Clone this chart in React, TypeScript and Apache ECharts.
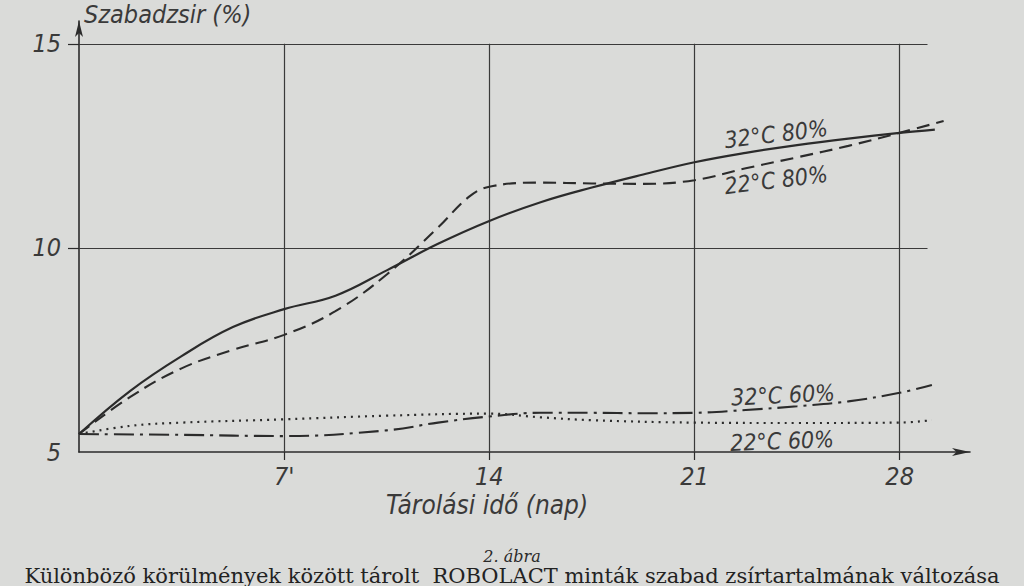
import React, { useEffect, useRef } from "react";
import * as echarts from "echarts";

// ---- data ----
const days32_80 = [0, 1.75, 3.5, 5.25, 7, 8.75, 10.5, 12.25, 14, 15.75, 17.5, 19.25, 21, 22.75, 24.5, 26.25, 28, 29.2];
const vals32_80 = [5.44, 6.5, 7.35, 8.06, 8.5, 8.83, 9.45, 10.1, 10.66, 11.12, 11.48, 11.8, 12.1, 12.33, 12.52, 12.68, 12.82, 12.9];

const days22_80 = [0, 1.75, 3.5, 5.25, 7, 8.75, 10.5, 12.25, 13.3, 14, 15.75, 17.5, 19.25, 21, 22.75, 24.5, 26.25, 28, 29.5];
const vals22_80 = [5.44, 6.35, 7.05, 7.5, 7.87, 8.45, 9.35, 10.5, 11.25, 11.5, 11.6, 11.58, 11.57, 11.66, 11.95, 12.22, 12.5, 12.82, 13.11];

const days32_60 = [0, 3.5, 7, 10.5, 12.25, 14, 15.75, 17.5, 19.25, 21, 22.75, 24.5, 26.25, 28, 29.1];
const vals32_60 = [5.44, 5.42, 5.39, 5.53, 5.72, 5.87, 5.96, 5.96, 5.95, 5.96, 6.03, 6.12, 6.24, 6.45, 6.64];

const days22_60 = [0, 1.75, 3.5, 7, 10.5, 14, 15.75, 17.5, 21, 24.5, 28, 29.1];
const vals22_60 = [5.44, 5.64, 5.72, 5.8, 5.89, 5.94, 5.85, 5.78, 5.72, 5.71, 5.72, 5.78];

const xTickValues = [7, 14, 21, 28];
const xTickLabels = ["7'", "14", "21", "28"];
const yTickValues = [5, 10, 15];
const yTickLabels = ["5", "10", "15"];
const hGridValues = [10, 15];

const seriesNames = ["32°C 80%", "22°C 80%", "32°C 60%", "22°C 60%"];

const X_MAX = 30.4;
const Y_MIN = 5;
const Y_MAX = 15.56;
const GRID_X_END = 28.95;

const INK = "#2b2b2b";
const TEXT = "#3a3a3a";
const HAND = "'Liberation Sans Narrow', 'DejaVu Sans Condensed', 'Liberation Sans', sans-serif";
const SERIF = "'DejaVu Serif', 'Liberation Serif', serif";

function zip(xs: number[], ys: number[]) {
  return xs.map((x, i) => [x, ys[i]]);
}

export default function App() {
  const ref = useRef<HTMLDivElement>(null);

  useEffect(() => {
    if (!ref.current) return;
    const chart = echarts.init(ref.current, null, { renderer: "svg" });

    const gridLines: any[] = [];
    hGridValues.forEach((v) => {
      gridLines.push([{ coord: [0, v] }, { coord: [GRID_X_END, v] }]);
    });
    xTickValues.forEach((d) => {
      gridLines.push([{ coord: [d, Y_MIN] }, { coord: [d, 15] }]);
    });

    const baseLine = (name: string, data: number[][], type: any, width: number) => ({
      name,
      type: "line",
      data,
      smooth: 0.4,
      symbol: "none",
      clip: false,
      lineStyle: { color: INK, width, type, cap: "butt" },
      silent: true,
      z: 3,
    });

    const labelText = (text: string, x: number, y: number, rot: number) => ({
      type: "text",
      x,
      y,
      rotation: rot,
      style: {
        text,
        x: 0,
        y: 0,
        align: "center",
        verticalAlign: "middle",
        fill: TEXT,
        font: `italic 23px ${HAND}`,
      },
    });

    chart.setOption({
      animation: false,
      backgroundColor: "#dadbd9",
      grid: { left: 79, top: 21, width: 891, height: 431, containLabel: false },
      xAxis: {
        type: "value",
        min: 0,
        max: X_MAX,
        axisLine: {
          show: true,
          symbol: ["none", "arrow"],
          symbolSize: [6, 18],
          lineStyle: { color: INK, width: 1.6 },
        },
        axisTick: {
          show: true,
          customValues: xTickValues,
          length: 8,
          lineStyle: { color: INK, width: 1.2 },
        },
        axisLabel: {
          show: true,
          customValues: xTickValues,
          margin: 12,
          formatter: (v: number) => xTickLabels[xTickValues.indexOf(v)] ?? "",
          color: TEXT,
          fontFamily: HAND,
          fontStyle: "italic",
          fontSize: 25,
        },
        splitLine: { show: false },
      },
      yAxis: {
        type: "value",
        min: Y_MIN,
        max: Y_MAX,
        interval: 5,
        axisLine: {
          show: true,
          symbol: ["none", "arrow"],
          symbolSize: [6, 16],
          lineStyle: { color: INK, width: 1.6 },
        },
        axisTick: {
          show: true,
          customValues: hGridValues,
          length: 11,
          lineStyle: { color: INK, width: 1.2 },
        },
        axisLabel: {
          show: true,
          customValues: yTickValues,
          margin: 18,
          formatter: (v: number) => yTickLabels[yTickValues.indexOf(v)] ?? "",
          color: TEXT,
          fontFamily: HAND,
          fontStyle: "italic",
          fontSize: 25,
        },
        splitLine: { show: false },
      },
      series: [
        {
          ...baseLine(seriesNames[0], zip(days32_80, vals32_80), "solid", 2.2),
          markLine: {
            silent: true,
            symbol: ["none", "none"],
            label: { show: false },
            lineStyle: { type: "solid", color: "#3a3a3a", width: 1.2 },
            emphasis: { disabled: true },
            data: gridLines,
            z: 1,
          },
        },
        baseLine(seriesNames[1], zip(days22_80, vals22_80), [13, 7], 2.1),
        baseLine(seriesNames[2], zip(days32_60, vals32_60), [20, 6, 3, 6], 2.1),
        baseLine(seriesNames[3], zip(days22_60, vals22_60), [2, 5], 2.2),
      ],
      graphic: [
        {
          type: "text",
          left: 84,
          top: 2,
          style: { text: "Szabadzsir (%)", fill: TEXT, font: `italic 25px ${HAND}` },
        },
        {
          type: "text",
          x: 487,
          y: 505,
          style: {
            text: "Tárolási idő (nap)",
            align: "center",
            verticalAlign: "middle",
            fill: TEXT,
            font: `italic 26px ${HAND}`,
          },
        },
        labelText(seriesNames[0], 776, 134, 0.12),
        labelText(seriesNames[1], 776, 180, 0.12),
        labelText(seriesNames[2], 783, 395, 0.05),
        labelText(seriesNames[3], 782, 441, 0.04),
        {
          type: "text",
          x: 512,
          y: 564,
          style: {
            text: "2. ábra",
            align: "center",
            verticalAlign: "bottom",
            fill: "#2a2a2a",
            font: `italic 16px ${SERIF}`,
          },
        },
        {
          type: "text",
          x: 512,
          y: 586,
          style: {
            text: "Különböző körülmények között tárolt  ROBOLACT minták szabad zsírtartalmának változása",
            align: "center",
            verticalAlign: "bottom",
            fill: "#222",
            font: `21px ${SERIF}`,
          },
        },
      ],
    });

    return () => chart.dispose();
  }, []);

  return (
    <div
      ref={ref}
      style={{ position: "fixed", left: 0, top: 0, width: 1024, height: 586, background: "#dadbd9" }}
    />
  );
}
